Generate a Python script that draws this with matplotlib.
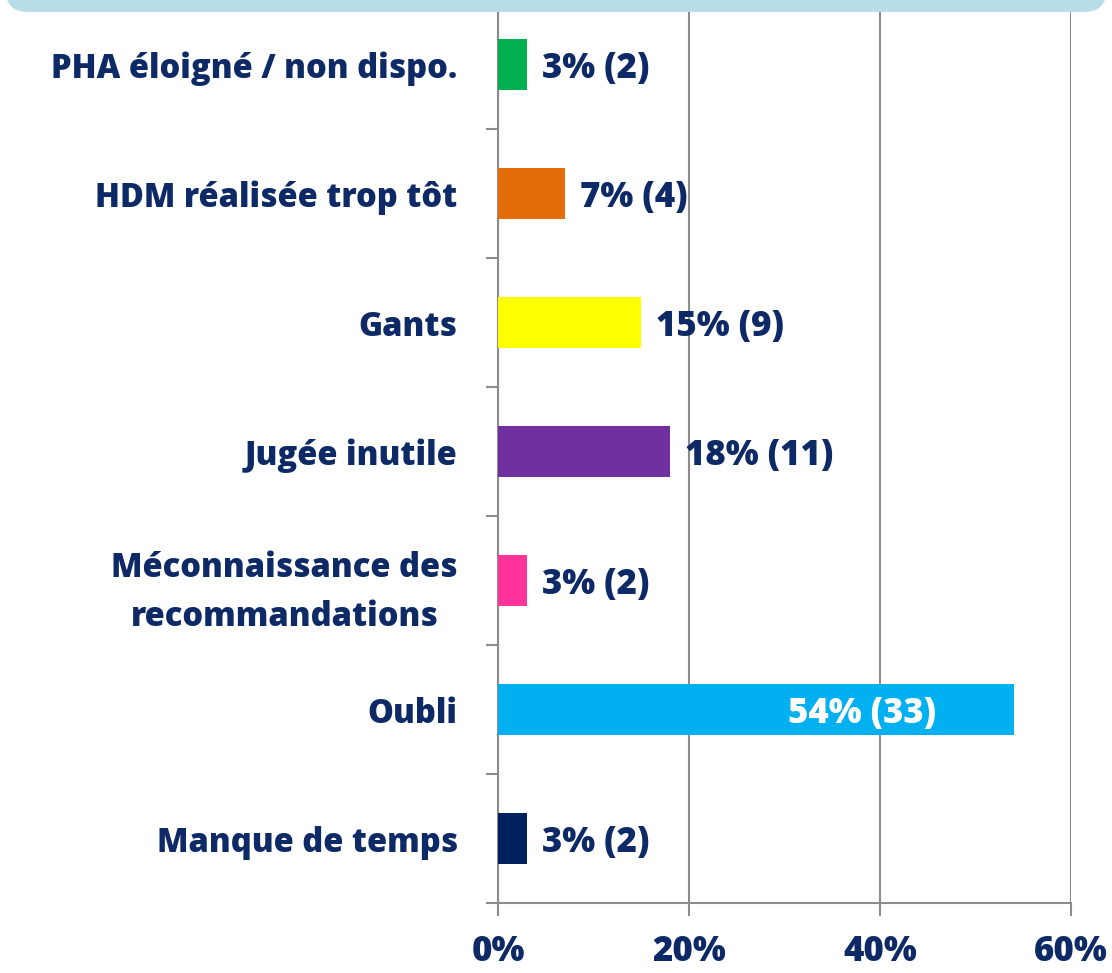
import matplotlib.pyplot as plt
from matplotlib.patches import FancyBboxPatch
from matplotlib.ticker import FixedLocator, PercentFormatter

# Data (top to bottom as displayed)
categories = ['PHA éloigné / non dispo.', 'HDM réalisée trop tôt', 'Gants',
              'Jugée inutile', 'Méconnaissance des\nrecommandations', 'Oubli',
              'Manque de temps']
percents = [3, 7, 15, 18, 3, 54, 3]
counts = [2, 4, 9, 11, 2, 33, 2]
colors = ['#00b050', '#e46c0a', '#ffff00', '#7030a0', '#ff3399', '#00b0f0', '#002060']

navy = '#0e2a66'
grid_grey = '#8c8c8c'
plt.rcParams['font.family'] = ['Open Sans', 'DejaVu Sans']
W = 800

fig = plt.figure(figsize=(11.12, 9.73), dpi=100)
ax = fig.add_axes([0.4478, 0.0719, 0.5153, 0.9281])

# plot in reverse so first category is at top
ypos = list(range(len(categories)))[::-1]
ax.barh(ypos, percents, height=0.4, color=colors, zorder=3)

ax.set_xlim(0, 60)
ax.set_ylim(-0.5, len(categories) - 0.5)
ax.set_xticks([0, 20, 40, 60])
ax.xaxis.set_major_formatter(PercentFormatter(decimals=0))
ax.set_yticks(ypos)
ax.set_yticklabels(categories, multialignment='center', linespacing=1.6)
ax.yaxis.set_minor_locator(FixedLocator([i - 0.5 for i in range(len(categories) + 1)]))

ax.grid(axis='x', color=grid_grey, linewidth=1.5, zorder=0)
for s in ['top', 'right', 'bottom']:
    ax.spines[s].set_visible(False)
ax.spines['left'].set_color(grid_grey)
ax.spines['left'].set_linewidth(1.5)
ax.axhline(-0.5, color=grid_grey, linewidth=1.5, zorder=2, clip_on=False)

ax.tick_params(axis='y', which='major', length=0, pad=29, labelsize=23.5, labelcolor=navy)
ax.tick_params(axis='y', which='minor', length=9, width=1.5, color=grid_grey)
ax.tick_params(axis='x', which='major', length=9, width=1.5, color=grid_grey,
               direction='out', pad=13, labelsize=25, labelcolor=navy)
for lbl in ax.get_xticklabels() + ax.get_yticklabels():
    lbl.set_fontweight(W)

# data labels
for y, p, c in zip(ypos, percents, counts):
    txt = f'{p}% ({c})'
    if p > 40:
        ax.annotate(txt, (p, y), xytext=(-56, -3), textcoords='offset points',
                    ha='right', va='center', color='white', fontsize=25,
                    fontweight=W, zorder=4)
    else:
        ax.annotate(txt, (p, y), xytext=(11, -3), textcoords='offset points',
                    ha='left', va='center', color=navy, fontsize=25,
                    fontweight=W, zorder=4)

# light blue banner at the top (cut off)
box = FancyBboxPatch((0.005, 0.9877), 0.99, 0.1, transform=fig.transFigure,
                     boxstyle='round,pad=0,rounding_size=0.02',
                     facecolor='#b7dde8', edgecolor='none', zorder=10,
                     mutation_aspect=1112 / 973)
fig.patches.append(box)

fig.savefig('out.png', dpi=100)
